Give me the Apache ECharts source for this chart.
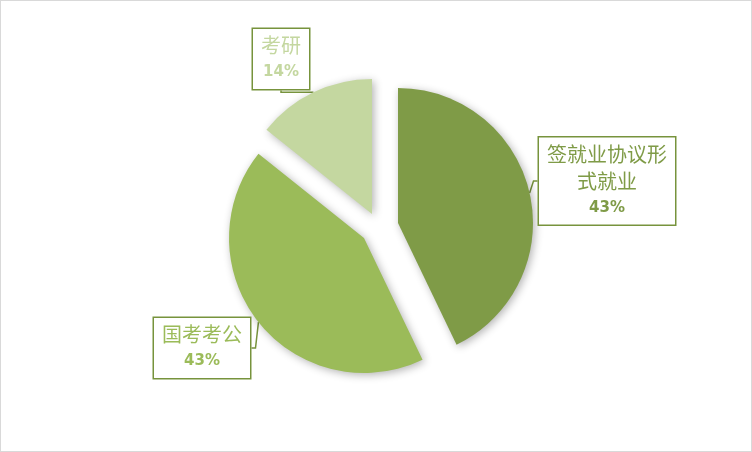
<!DOCTYPE html>
<html>
<head>
<meta charset="utf-8">
<script src="https://cdn.jsdelivr.net/npm/echarts@6/dist/echarts.min.js"></script>
<style>
  html, body { margin: 0; padding: 0; background: #fff; }
  #chart { width: 750px; height: 450px; border: 1px solid #d9d9d9; }
</style>
</head>
<body>
<div id="chart"></div>
<script>
// pie data (shares 43% / 43% / 14%)
const names = ["签就业协议形式就业", "国考考公", "考研"];
const values = [3, 3, 1];
const colors = ["#7f9b47", "#9bbb59", "#c4d7a0"];

// each slice is pulled out of the pie on its own, so it gets its own centre
const sliceCenters = [[397, 222], [363, 237], [371, 213]];
// centre of each callout box
const boxPos = [[606, 180], [201, 347], [280, 58]];

var chart = echarts.init(document.getElementById("chart"));

// break long names every 6 chars, like the wrapped box in the reference
function wrapName(name) {
  let out = [];
  for (let i = 0; i < name.length; i += 6) out.push(name.slice(i, i + 6));
  return out.map((s) => "{n|" + s + "}").join("\n");
}

const hidden = {
  itemStyle: { color: "rgba(0,0,0,0)", shadowBlur: 0, shadowColor: "rgba(0,0,0,0)" },
  label: { show: false },
  labelLine: { show: false },
};

// one pie series per slice; the other two slices stay invisible
const series = names.map((_, k) => ({
  type: "pie",
  center: sliceCenters[k],
  radius: [0, 135],
  startAngle: 90,
  percentPrecision: 0,
  avoidLabelOverlap: false,
  emphasis: { disabled: true },
  itemStyle: {
    shadowBlur: 8,
    shadowColor: "rgba(0,0,0,0.3)",
    shadowOffsetX: 2,
    shadowOffsetY: 2,
  },
  label: {
    show: true,
    formatter: function (p) {
      return wrapName(p.name) + "\n{p|" + p.percent + "%}";
    },
    backgroundColor: "#fff",
    borderColor: "#77933c",
    borderWidth: 1.5,
    padding: [3, 8],
    rich: {
      n: { color: colors[k], fontSize: 20, lineHeight: 27, fontFamily: "Noto Sans CJK SC" },
      p: { color: colors[k], fontSize: 15, lineHeight: 27, fontWeight: "bold", fontFamily: "DejaVu Sans" },
    },
  },
  labelLine: {
    show: true,
    length: 4,
    length2: 4,
    lineStyle: { color: "#77933c", width: 1.5 },
  },
  labelLayout: function () {
    return { x: boxPos[k][0], y: boxPos[k][1], align: "center", verticalAlign: "middle" };
  },
  data: names.map((n, i) =>
    i === k
      ? { name: n, value: values[i], itemStyle: { color: colors[i] } }
      : Object.assign({ name: n, value: values[i] }, hidden)
  ),
}));

var option = {
  animation: false,
  series: series,
};

option && chart.setOption(option);
</script>
</body>
</html>
